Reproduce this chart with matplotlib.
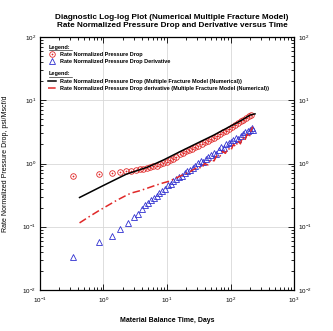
import matplotlib
matplotlib.use("Agg")
import matplotlib.pyplot as plt
from matplotlib.lines import Line2D

plt.rcParams['font.family'] = ['Liberation Sans', 'DejaVu Sans']

# measured data: rate normalized pressure drop (circles)
t_dp = [0.33, 0.85, 1.35, 1.85, 2.3, 2.75, 3.2, 3.7, 4.2, 4.8, 5.4, 6.1, 6.9, 7.8, 8.8,
        9.9, 11, 12.5, 14, 16, 18, 20, 22.5, 25, 28, 31, 35, 39, 44, 49, 55, 61, 68,
        76, 85, 95, 106, 118, 131, 145, 160, 176, 194, 212]
dp = [0.63, 0.675, 0.71, 0.73, 0.75, 0.77, 0.79, 0.81, 0.83, 0.85, 0.87, 0.9, 0.93, 0.97, 1.02,
      1.07, 1.13, 1.2, 1.28, 1.4, 1.47, 1.55, 1.63, 1.72, 1.82, 1.92, 2.03, 2.15, 2.28, 2.4, 2.55,
      2.72, 2.9, 3.1, 3.3, 3.55, 3.8, 4.05, 4.35, 4.65, 4.95, 5.25, 5.55, 5.85]

# measured derivative (triangles)
t_der = [0.33, 0.85, 1.35, 1.85, 2.4, 3.0, 3.5, 4.0, 4.5, 5.0, 5.6, 6.2, 6.9, 7.6, 8.4,
         9.3, 10.3, 11.4, 12.6, 14, 15.5, 17, 19, 21, 23, 25.5, 28, 31, 34, 37, 41, 45, 49,
         54, 59, 65, 71, 78, 85, 93, 102, 111, 121, 132, 144, 157, 171, 186, 202, 218, 230]
der = [0.033, 0.057, 0.072, 0.091, 0.116, 0.144, 0.16, 0.19, 0.22, 0.24, 0.26, 0.29, 0.31, 0.34, 0.37,
       0.4, 0.45, 0.48, 0.52, 0.57, 0.62, 0.64, 0.7, 0.76, 0.8, 0.86, 0.92, 1.02, 1.1, 1.06, 1.2, 1.26, 1.36,
       1.46, 1.42, 1.65, 1.8, 1.75, 2.0, 2.1, 2.2, 2.35, 2.5, 2.4, 2.7, 2.9, 3.1, 3.3, 3.4, 3.6, 3.4]

# model: multiple fracture (numerical)
t_model = [0.42, 1.0, 2.3, 5, 9, 16, 30, 54, 100, 150, 204, 243]
dp_model = [0.29, 0.45, 0.68, 0.88, 1.15, 1.54, 2.1, 2.8, 3.9, 4.85, 5.85, 6.1]

t_model_der = [0.42, 0.6, 0.85, 1.2, 1.6, 2.1, 2.7, 3.7, 5, 6.5, 8.5, 10.5, 13, 16, 19,
               23, 27, 31, 35, 39, 44, 49, 55, 61, 68, 75, 83, 92, 101, 111, 121, 132, 143,
               155, 168, 182, 197, 212, 224]
der_model = [0.115, 0.145, 0.18, 0.22, 0.26, 0.3, 0.34, 0.37, 0.41, 0.45, 0.49, 0.52, 0.57, 0.63, 0.68,
             0.74, 0.82, 0.88, 0.84, 1.0, 0.95, 1.15, 1.1, 1.35, 1.3, 1.55, 1.45, 1.75, 1.6, 2.0, 1.85,
             2.3, 2.05, 2.6, 2.3, 2.9, 2.6, 3.4, 3.8]

red = '#e02828'
blue = '#3030d0'

fig = plt.figure(figsize=(3.33, 3.31), dpi=100)
ax = fig.add_axes([0.12, 0.124, 0.763, 0.764])

ax.plot(t_dp, dp, 'o', ms=4, mfc='none', mec=red, mew=0.6, zorder=3)
ax.plot(t_dp, dp, '+', ms=2, color=red, mew=0.5, zorder=3)
ax.plot(t_der, der, '^', ms=4.5, mfc='none', mec=blue, mew=0.6, zorder=3)
ax.plot(t_model, dp_model, '-', color='black', lw=1.1, zorder=4)
ax.plot(t_model_der, der_model, color=red, lw=1.1, dashes=[5, 2, 1, 2], zorder=4)

ax.set_xscale('log')
ax.set_yscale('log')
ax.set_xlim(0.1, 1000)
ax.set_ylim(0.01, 100)
ax.grid(True, which='major', color='#d8d8d8', lw=0.6)
ax.tick_params(which='both', direction='in', top=True, right=True, labelright=True,
               labelsize=4.5, width=0.6)
ax.tick_params(which='major', length=4)
ax.tick_params(which='minor', length=2)
ax.tick_params(axis='x', pad=4)
ax.tick_params(axis='y', pad=3)
for s in ax.spines.values():
    s.set_linewidth(0.9)

ax.set_xlabel('Material Balance Time, Days', fontsize=5, fontweight='bold', labelpad=9)
ax.set_ylabel('Rate Normalized Pressure Drop, psi/Mscf/d', fontsize=5, labelpad=9)
fig.text(0.517, 0.935, 'Diagnostic Log-log Plot (Numerical Multiple Fracture Model)\n'
         'Rate Normalized Pressure Drop and Derivative versus Time',
         ha='center', va='center', fontsize=5.9, fontweight='bold', linespacing=1.15)

# legends
leg_kw = dict(loc='upper left', frameon=False, prop={'size': 4, 'weight': 'bold'},
              handlelength=1.5, handletextpad=0.8, labelspacing=0.45, borderpad=0, borderaxespad=0)
h1 = (Line2D([], [], ls='none', marker='o', ms=4, mfc='none', mec=red, mew=0.6),
      Line2D([], [], ls='none', marker='+', ms=2, color=red, mew=0.5))
h2 = Line2D([], [], ls='none', marker='^', ms=4.5, mfc='none', mec=blue, mew=0.6)
leg1 = ax.legend([h1, h2], ['Rate Normalized Pressure Drop', 'Rate Normalized Pressure Drop Derivative'],
                 bbox_to_anchor=(0.03, 0.942), **leg_kw)
ax.add_artist(leg1)
h3 = Line2D([], [], color='black', lw=1.1)
h4 = Line2D([], [], color=red, lw=1.1, dashes=[5, 2, 1, 2])
ax.legend([h3, h4], ['Rate Normalized Pressure Drop (Multiple Fracture Model (Numerical))',
                     'Rate Normalized Pressure Drop derivative (Multiple Fracture Model (Numerical))'],
          bbox_to_anchor=(0.03, 0.835), **leg_kw)
for y in (0.96, 0.855):
    ax.text(0.035, y, 'Legend:', transform=ax.transAxes, fontsize=4, fontweight='bold',
            va='center', ha='left')
    ax.plot([0.035, 0.128], [y - 0.011, y - 0.011], transform=ax.transAxes, color='black', lw=0.4)

fig.savefig('out.png', dpi=100)
